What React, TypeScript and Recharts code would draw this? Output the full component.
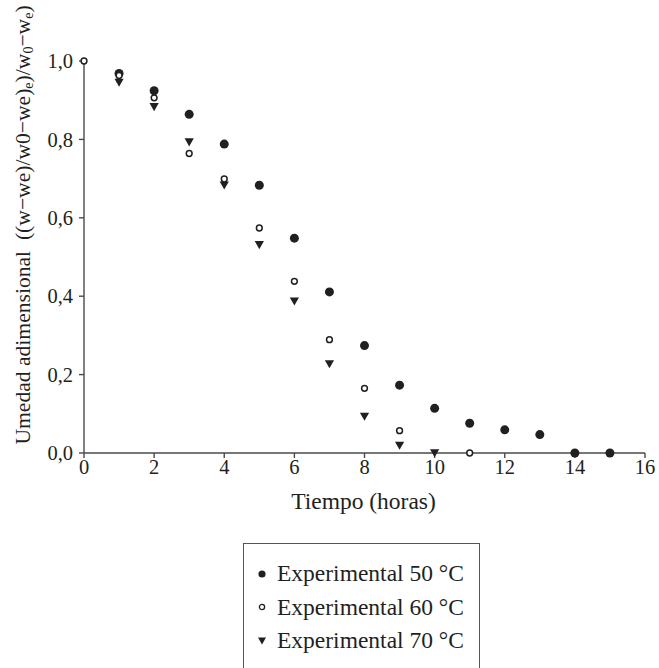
import { ScatterChart, Scatter, XAxis, YAxis, Legend } from 'recharts';

// hours and dimensionless moisture
const hours50 = [1, 2, 3, 4, 5, 6, 7, 8, 9, 10, 11, 12, 13, 14, 15];
const moisture50 = [0.968, 0.924, 0.864, 0.788, 0.683, 0.548, 0.411, 0.274, 0.173, 0.114, 0.076, 0.059, 0.047, 0, 0];
const hours60 = [0, 1, 2, 3, 4, 5, 6, 7, 8, 9, 11];
const moisture60 = [1.0, 0.963, 0.906, 0.764, 0.699, 0.574, 0.438, 0.289, 0.165, 0.057, 0];
const hours70 = [1, 2, 3, 4, 5, 6, 7, 8, 9, 10];
const moisture70 = [0.945, 0.883, 0.793, 0.683, 0.531, 0.387, 0.227, 0.093, 0.019, 0];

const xTicks = [0, 2, 4, 6, 8, 10, 12, 14, 16];
const yTicks = [0, 0.2, 0.4, 0.6, 0.8, 1.0];
const seriesNames = ['Experimental 50 °C', 'Experimental 60 °C', 'Experimental 70 °C'];

const FONT = 'Liberation Serif';
const INK = '#231f20';
const AXIS = '#4a4a4a';

const toPoints = (xs: number[], ys: number[]) => xs.map((x, i) => ({ x, y: ys[i] }));
const data50 = toPoints(hours50, moisture50);
const data60 = toPoints(hours60, moisture60);
const data70 = toPoints(hours70, moisture70);

const FilledDot = (props: any) => <circle cx={props.cx} cy={props.cy} r={4.5} fill={INK} />;
const OpenDot = (props: any) => (
  <circle cx={props.cx} cy={props.cy} r={2.9} fill="#fff" stroke={INK} strokeWidth={1.5} />
);
const DownTriangle = (props: any) => {
  const { cx, cy } = props;
  return <path d={`M${cx - 4.6},${cy - 3.8} L${cx + 4.6},${cy - 3.8} L${cx},${cy + 4.3} Z`} fill={INK} />;
};

const legendMarker = (i: number) => {
  if (i === 0) return <circle cx={6} cy={6} r={3.6} fill={INK} />;
  if (i === 1) return <circle cx={6} cy={6} r={2.6} fill="#fff" stroke={INK} strokeWidth={1.3} />;
  return <path d="M2,2.5 L10,2.5 L6,9.5 Z" fill={INK} />;
};

const LegendBox = () => (
  <div style={{ fontFamily: FONT, fontSize: 23.5, color: INK, paddingTop: 13, paddingLeft: 12 }}>
    {seriesNames.map((name, i) => (
      <div key={name} style={{ display: 'flex', alignItems: 'center', height: 33.5 }}>
        <svg width={12} height={12} style={{ marginRight: 9 }}>
          {legendMarker(i)}
        </svg>
        <span>{name}</span>
      </div>
    ))}
  </div>
);

const YLabel = (props: any) => {
  const vb = props.viewBox;
  const x = 23;
  const y = vb.y + vb.height / 2 - 32;
  return (
    <text
      x={x}
      y={y}
      transform={`rotate(-90, ${x}, ${y})`}
      textAnchor="middle"
      dominantBaseline="central"
      style={{ fontFamily: FONT, fontSize: 21.6, fill: INK }}
    >
      Umedad adimensional {'\u00a0'}((w−we)/w0−we)
      <tspan fontSize={14} dy={5}>e</tspan>
      <tspan dy={-5}>)/w</tspan>
      <tspan fontSize={14} dy={5}>0</tspan>
      <tspan dy={-5}>−w</tspan>
      <tspan fontSize={14} dy={5}>e</tspan>
      <tspan dy={-5}>)</tspan>
    </text>
  );
};

const tickStyle = { fontFamily: FONT, fontSize: 20.5, fill: INK };

export default function App() {
  return (
    <div
      style={{
        position: 'absolute',
        left: 0,
        top: 0,
        width: 659,
        height: 668,
        overflow: 'hidden',
        background: '#fff',
        fontFamily: FONT,
      }}
    >
      <ScatterChart width={659} height={668} margin={{ top: 61, right: 14, bottom: 185, left: 34 }}>
        <XAxis
          type="number"
          dataKey="x"
          domain={[0, 16]}
          ticks={xTicks}
          height={30}
          tick={tickStyle}
          tickSize={5}
          tickMargin={1}
          stroke={AXIS}
          strokeWidth={1.4}
          label={{
            value: 'Tiempo (horas)',
            position: 'bottom',
            offset: 9,
            dx: -1,
            style: { fontFamily: FONT, fontSize: 23.5, fill: INK },
          }}
        />
        <YAxis
          type="number"
          dataKey="y"
          domain={[0, 1]}
          ticks={yTicks}
          width={50}
          tick={tickStyle}
          tickSize={5}
          tickMargin={6}
          tickFormatter={(v: number) => v.toFixed(1).replace('.', ',')}
          stroke={AXIS}
          strokeWidth={1.4}
          label={{ content: <YLabel /> }}
        />
        {/* open circles are drawn last, on top of the others */}
        <Scatter data={data50} shape={FilledDot} isAnimationActive={false} />
        <Scatter data={data70} shape={DownTriangle} isAnimationActive={false} />
        <Scatter data={data60} shape={OpenDot} isAnimationActive={false} />
        <Legend
          layout="vertical"
          align="center"
          verticalAlign="middle"
          content={<LegendBox />}
          wrapperStyle={{
            left: 243,
            top: 543,
            width: 237,
            height: 150,
            border: '1.5px solid #555',
            boxSizing: 'border-box',
          }}
        />
      </ScatterChart>
    </div>
  );
}
